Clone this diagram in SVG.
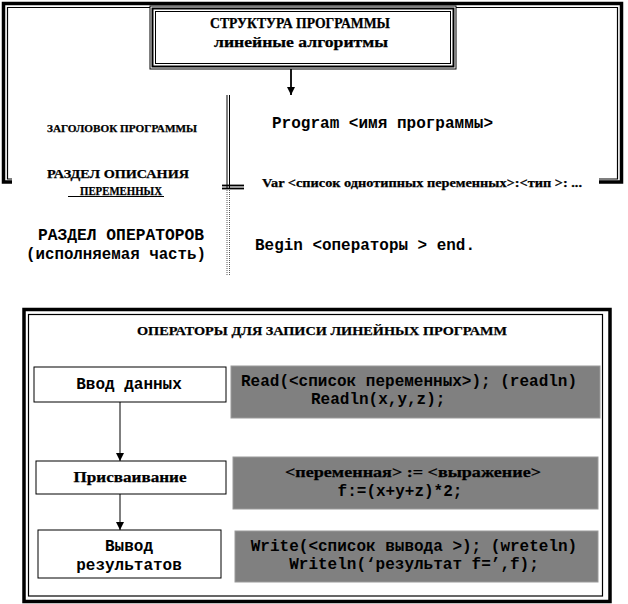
<svg xmlns="http://www.w3.org/2000/svg" width="628" height="604" viewBox="0 0 628 604">
<style>
.t{font-family:"Liberation Serif","Times New Roman",serif;font-weight:bold;fill:#000;stroke:#000;stroke-width:0.25}
.m{font-family:"Liberation Mono","Courier New",monospace;font-weight:bold;fill:#000;font-size:16px}
.box{fill:#fff;stroke:#000;stroke-width:1}
.gray{fill:#808080;stroke:#9a9a9a;stroke-width:1}
.ln{stroke:#000;fill:none}
</style>
<defs>
<marker id="ah" markerWidth="8" markerHeight="8" refX="8" refY="4" orient="auto" markerUnits="userSpaceOnUse" viewBox="0 0 8 8">
<path d="M0,0 L8,4 L0,8 Z" fill="#000"/>
</marker>
</defs>

<g id="top-frame">
<path class="ln" d="M12 182 H3.5 V3.5 H621.5 V182 H599" stroke-width="3.5" stroke-linejoin="miter"/>
<path class="ln" d="M12 179 H7.5 V7.5 H617.5 V179 H599" stroke-width="1.2"/>
</g>

<g id="title">
<rect x="150" y="6" width="306" height="63" fill="#fff" stroke="#000" stroke-width="1"/>
<rect x="152.5" y="8.5" width="301" height="58" fill="none" stroke="#000" stroke-width="2"/>
<rect x="155.5" y="11.5" width="295" height="52" fill="none" stroke="#000" stroke-width="1"/>
<text class="t" x="300" y="28" font-size="14" text-anchor="middle" textLength="180" lengthAdjust="spacingAndGlyphs">СТРУКТУРА  ПРОГРАММЫ</text>
<text class="t" x="301" y="47" font-size="14" text-anchor="middle" textLength="174" lengthAdjust="spacingAndGlyphs">линейные  алгоритмы</text>
</g>

<g id="connectors">
<line class="ln" x1="291" y1="69" x2="291" y2="95" stroke-width="1.8" marker-end="url(#ah)"/>
<line class="ln" x1="227" y1="95" x2="227" y2="188" stroke-width="1"/>
<line class="ln" x1="229.5" y1="95" x2="229.5" y2="188" stroke-width="1"/>
<line x1="227" y1="188" x2="227" y2="276" stroke="#555" stroke-width="1" stroke-dasharray="1,1"/>
<line x1="229.5" y1="188" x2="229.5" y2="276" stroke="#555" stroke-width="1" stroke-dasharray="1,1"/>
<line class="ln" x1="222" y1="185.5" x2="244" y2="185.5" stroke-width="1.8"/>
<line class="ln" x1="222" y1="188.5" x2="244" y2="188.5" stroke-width="1.8"/>
<line class="ln" x1="120" y1="402" x2="120" y2="461" stroke-width="1" marker-end="url(#ah)"/>
<line class="ln" x1="120" y1="494" x2="120" y2="530" stroke-width="1" marker-end="url(#ah)"/>
</g>

<g id="header-row">
<text class="t" x="47" y="132" font-size="11" textLength="150" lengthAdjust="spacingAndGlyphs">ЗАГОЛОВОК  ПРОГРАММЫ</text>
<text class="m" x="272" y="128" textLength="221" lengthAdjust="spacingAndGlyphs">Program &lt;имя программы&gt;</text>
</g>

<g id="var-row">
<text class="t" x="47" y="178" font-size="13" textLength="142" lengthAdjust="spacingAndGlyphs">РАЗДЕЛ  ОПИСАНИЯ</text>
<text class="t" x="80" y="195" font-size="13" textLength="82" lengthAdjust="spacingAndGlyphs">ПЕРЕМЕННЫХ</text>
<line class="ln" x1="68" y1="196.5" x2="164" y2="196.5" stroke-width="1"/>
<text class="t" x="262" y="187" font-size="12" textLength="320" lengthAdjust="spacingAndGlyphs">Var &lt;список однотипных переменных&gt;:&lt;тип  &gt;: ...</text>
</g>

<g id="ops-row">
<text class="m" x="121" y="240" text-anchor="middle" textLength="166" lengthAdjust="spacingAndGlyphs">РАЗДЕЛ ОПЕРАТОРОВ</text>
<text class="m" x="116" y="259" text-anchor="middle" textLength="180" lengthAdjust="spacingAndGlyphs">(исполняемая часть)</text>
<text class="m" x="255" y="250" textLength="220" lengthAdjust="spacingAndGlyphs">Begin &lt;операторы &gt; end.</text>
</g>

<g id="bottom-frame">
<rect x="24" y="309.5" width="586" height="292" fill="none" stroke="#000" stroke-width="3.5"/>
<rect x="28.5" y="314.5" width="574" height="281.5" fill="none" stroke="#000" stroke-width="1.2"/>
<text class="t" x="322" y="335" font-size="13" text-anchor="middle" textLength="370" lengthAdjust="spacingAndGlyphs">ОПЕРАТОРЫ  ДЛЯ  ЗАПИСИ  ЛИНЕЙНЫХ  ПРОГРАММ</text>
</g>

<g id="input">
<rect class="box" x="34" y="367" width="192" height="35"/>
<text class="m" x="129" y="389" text-anchor="middle">Ввод данных</text>
</g>
<g id="input-code">
<rect class="gray" x="231" y="366" width="369" height="52"/>
<text class="m" x="241" y="386">Read(&lt;список переменных&gt;); (readln)</text>
<text class="m" x="311" y="404">Readln(x,y,z);</text>
</g>

<g id="assign">
<rect class="box" x="36" y="461" width="190" height="33"/>
<text class="t" x="130" y="482" font-size="15" text-anchor="middle" textLength="113" lengthAdjust="spacingAndGlyphs">Присваивание</text>
</g>
<g id="assign-code">
<rect class="gray" x="233" y="457" width="365" height="52"/>
<text class="t" x="413" y="477" font-size="15" text-anchor="middle" textLength="256" lengthAdjust="spacingAndGlyphs">&lt;переменная&gt;  :=  &lt;выражение&gt;</text>
<text class="m" x="400" y="496" text-anchor="middle">f:=(x+y+z)*2;</text>
</g>

<g id="output">
<rect class="box" x="38" y="530" width="183" height="48"/>
<text class="m" x="129" y="551" text-anchor="middle">Вывод</text>
<text class="m" x="129" y="570" text-anchor="middle">результатов</text>
</g>
<g id="output-code">
<rect class="gray" x="235" y="531" width="363" height="51"/>
<text class="m" x="414" y="551" text-anchor="middle">Write(&lt;список вывода &gt;); (wreteln)</text>
<text class="m" x="414" y="569" text-anchor="middle">Writeln(‘результат f=’,f);</text>
</g>
</svg>
